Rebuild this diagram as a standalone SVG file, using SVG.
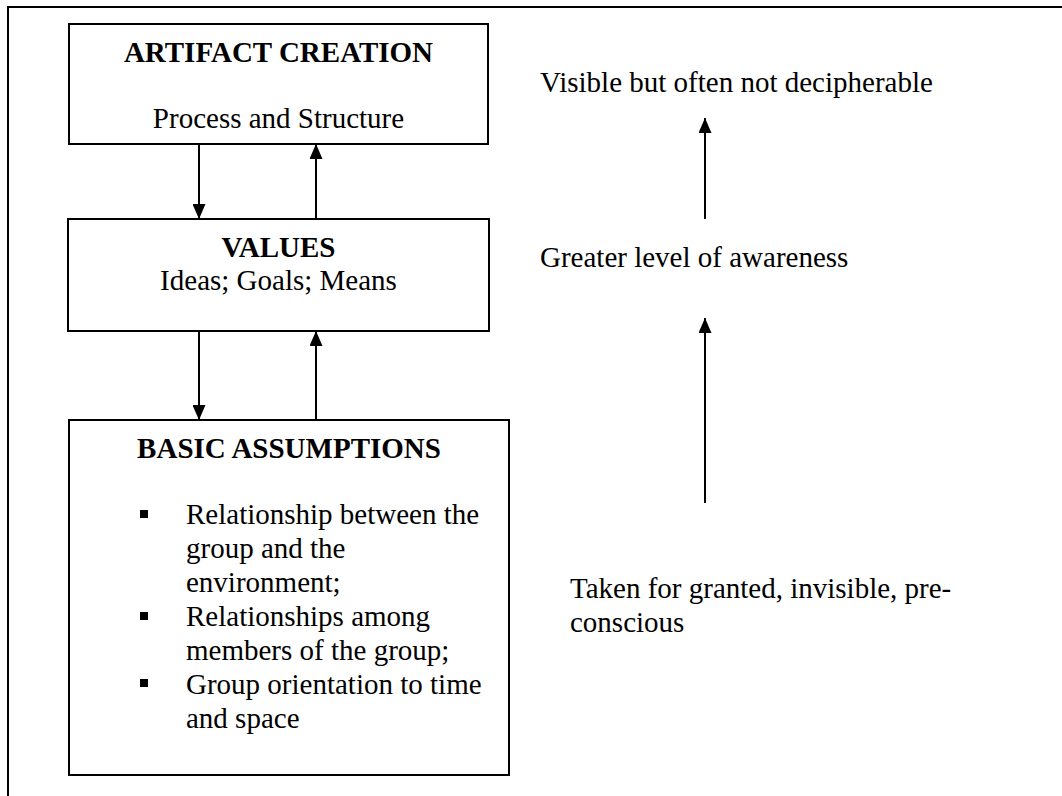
<svg xmlns="http://www.w3.org/2000/svg" width="1062" height="796" viewBox="0 0 1062 796">
  <style>
    text { font-family: "Liberation Serif", "Times New Roman", serif; font-size: 29px; fill: #000; }
    .b { font-weight: bold; }
    .c { text-anchor: middle; }
    .box { fill: #fff; stroke: #000; stroke-width: 2; }
    .frame { fill: none; stroke: #000; stroke-width: 2; }
    .edge { fill: none; stroke: #000; stroke-width: 2; marker-end: url(#head); }
    .bullet { fill: #000; }
  </style>
  <defs>
    <marker id="head" markerUnits="userSpaceOnUse" markerWidth="15" markerHeight="13" refX="15" refY="6.5" orient="auto">
      <path d="M0,0 L15,6.5 L0,13 Z" fill="#000"/>
    </marker>
  </defs>

  <rect width="1062" height="796" fill="#fff"/>

  <!-- page frame: top rule and left rule -->
  <path class="frame" d="M8,796 L8,7 L1062,7"/>

  <g id="artifact">
    <rect class="box" x="69" y="24" width="419" height="120"/>
    <text class="b c" x="278.5" y="62">ARTIFACT CREATION</text>
    <text class="c" x="278.5" y="128">Process and Structure</text>
  </g>

  <g id="values">
    <rect class="box" x="68" y="219" width="421" height="112"/>
    <text class="b c" x="278.5" y="257">VALUES</text>
    <text class="c" x="278.5" y="290">Ideas; Goals; Means</text>
  </g>

  <g id="assumptions">
    <rect class="box" x="69" y="420" width="440" height="355"/>
    <text class="b c" x="289" y="458">BASIC ASSUMPTIONS</text>
    <rect class="bullet" x="140" y="510" width="8" height="8"/>
    <rect class="bullet" x="140" y="612" width="8" height="8"/>
    <rect class="bullet" x="140" y="679" width="8" height="8"/>
    <text x="186" y="524">Relationship between the</text>
    <text x="186" y="558">group and the</text>
    <text x="186" y="592">environment;</text>
    <text x="186" y="626">Relationships among</text>
    <text x="186" y="660">members of the group;</text>
    <text x="186" y="694">Group orientation to time</text>
    <text x="186" y="728">and space</text>
  </g>

  <g id="visible">
    <text x="540" y="92">Visible but often not decipherable</text>
  </g>

  <g id="awareness">
    <text x="540" y="267">Greater level of awareness</text>
  </g>

  <g id="taken-for-granted">
    <text x="570" y="598">Taken for granted, invisible, pre-</text>
    <text x="570" y="632">conscious</text>
  </g>

  <g id="connectors">
    <path class="edge" d="M199,144 L199,219"/>
    <path class="edge" d="M316,219 L316,144"/>
    <path class="edge" d="M199,331 L199,420"/>
    <path class="edge" d="M316,420 L316,331"/>
    <path class="edge" d="M705,219 L705,118"/>
    <path class="edge" d="M705,503 L705,318"/>
  </g>
</svg>
